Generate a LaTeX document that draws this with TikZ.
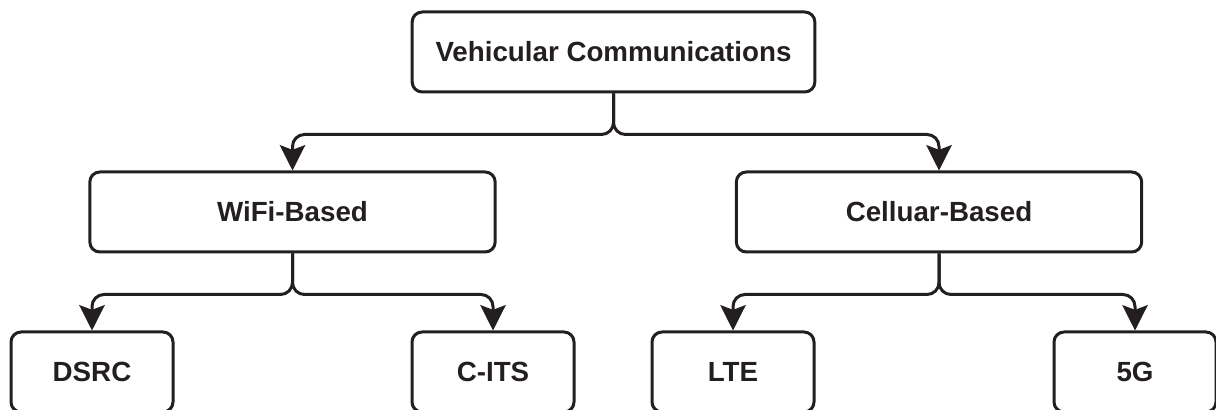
\documentclass[tikz,border=0pt]{standalone}
\usepackage{fontspec}
\setmainfont{Liberation Sans}
\usetikzlibrary{arrows.meta,positioning}
\definecolor{ink}{RGB}{35,31,32}

\begin{document}
\begin{tikzpicture}[x=0.75pt,y=0.75pt,line width=2.25pt,line join=round,
    >={Stealth[length=19pt,width=19pt,inset=3.5pt]},
    box/.style={draw=ink,text=ink,rounded corners=7.5pt,minimum height=60pt,
      font=\bfseries\fontsize{20.8}{25}\selectfont},
    link/.style={->,draw=ink,rounded corners=9pt}]
  \useasboundingbox (0,0) rectangle (1216,410);
  % top and middle row
  \node[box,minimum width=302pt] (vc) at (613.5,358) {Vehicular Communications};
  \node[box,minimum width=304pt] (wifi) at (292.5,198) {WiFi-Based};
  \node[box,minimum width=304pt] (cell) at (939,198) {Celluar-Based};
  % bottom row
  \node[box,minimum width=121.5pt] (dsrc) at (92,38) {DSRC};
  \node[box,minimum width=121.5pt] (cits) at (493,38) {C-ITS};
  \node[box,minimum width=121.5pt] (lte) at (733,38) {LTE};
  \node[box,minimum width=121.5pt] (fiveg) at (1135,38) {5G};

  \foreach \p/\c in {vc/wifi,vc/cell,wifi/dsrc,wifi/cits,cell/lte,cell/fiveg} {
      \draw[link] (\p.south) -- ++(0,-41) -| (\c.north);
    }
\end{tikzpicture}
\end{document}
